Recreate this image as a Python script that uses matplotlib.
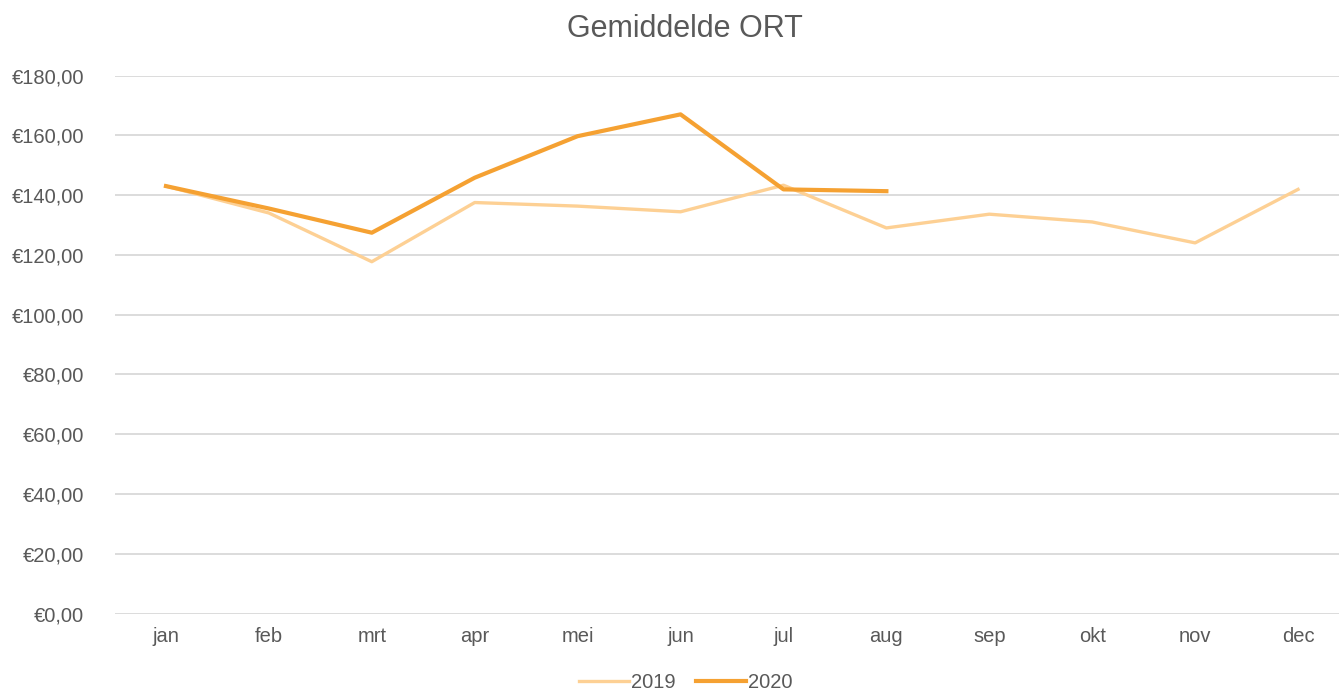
import matplotlib
matplotlib.use("Agg")
import matplotlib.pyplot as plt
from matplotlib.ticker import FuncFormatter

months = ["jan", "feb", "mrt", "apr", "mei", "jun", "jul", "aug", "sep", "okt", "nov", "dec"]
ort_2019 = [143.0, 134.0, 117.7, 137.5, 136.3, 134.4, 143.3, 129.0, 133.6, 131.0, 124.0, 141.9]
ort_2020 = [143.0, 135.5, 127.4, 145.8, 159.7, 167.0, 141.9, 141.3]
yticks = [0, 20, 40, 60, 80, 100, 120, 140, 160, 180]

plt.rcParams['font.family'] = ['Liberation Sans', 'DejaVu Sans']
gray = "#595959"

fig = plt.figure(figsize=(13.39, 6.92), dpi=100)
ax = fig.add_axes([114.5 / 1339, (692 - 613.5) / 692, 1235 / 1339, 538 / 692])

ax.plot(range(len(ort_2019)), ort_2019, color="#FDD094", lw=2.4, label="2019",
        solid_joinstyle="round", zorder=3)
ax.plot(range(len(ort_2020)), ort_2020, color="#F5A132", lw=3.0, label="2020",
        solid_joinstyle="round", zorder=4)

ax.set_xlim(-0.5, 11.5)
ax.set_ylim(0, 180)
ax.set_yticks(yticks)
ax.yaxis.set_major_formatter(FuncFormatter(lambda v, p: "€" + f"{v:.2f}".replace(".", ",")))
ax.set_xticks(range(len(months)))
ax.set_xticklabels(months)
ax.grid(axis="y", color="#D9D9D9", lw=1.3, zorder=0)
for s in ax.spines.values():
    s.set_visible(False)
ax.tick_params(axis="both", length=0, colors=gray, labelsize=14.5)
ax.tick_params(axis="y", pad=22)
ax.tick_params(axis="x", pad=10)

fig.text(0.5115, 0.958, "Gemiddelde ORT", ha="center", va="center", fontsize=22, color=gray)

leg = fig.legend(loc="center", bbox_to_anchor=(686 / 1339, 1 - 683 / 692), ncol=2, frameon=False,
                 fontsize=14.5, handlelength=2.5, handletextpad=0.1, columnspacing=1.0,
                 labelcolor=gray)

fig.savefig("out.png", dpi=100, facecolor="white")
